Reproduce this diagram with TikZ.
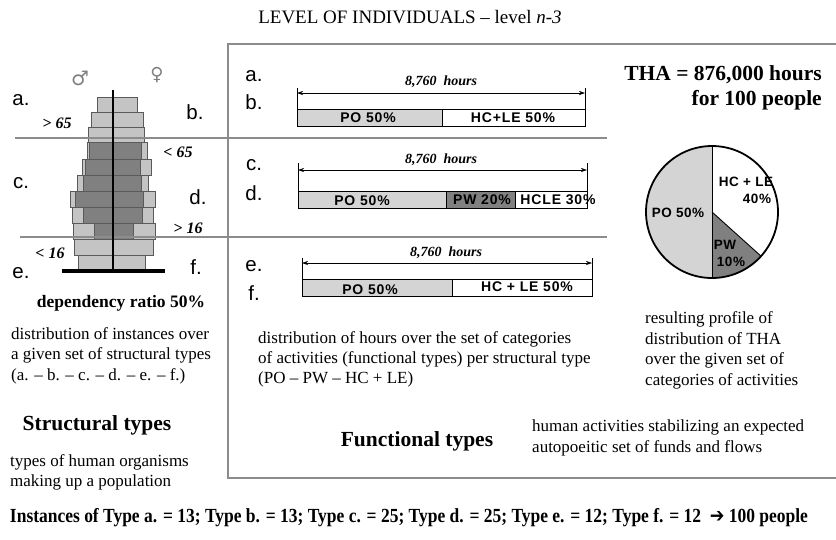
\documentclass[tikz,border=0pt]{standalone}
\usepackage{fontspec}
\setmainfont{Liberation Serif}
\newfontfamily\arial{Liberation Sans}
\newfontfamily\barfont[LetterSpace=6]{Liberation Sans}
\newfontfamily\piefont[LetterSpace=4]{Liberation Sans}
\newfontfamily\symfont{DejaVu Sans}
\usetikzlibrary{arrows.meta}
\definecolor{lgray}{HTML}{C4C4C4}
\definecolor{dgray}{HTML}{808080}
\definecolor{pogray}{HTML}{D4D4D4}
\definecolor{edgegray}{HTML}{5A5A5A}
\definecolor{linegray}{HTML}{8C8C8C}
\tikzset{
  lab/.style={font=\arial\fontsize{20.5}{20.5}\selectfont, inner sep=0},
  thr/.style={font=\bfseries\itshape\fontsize{16}{16}\selectfont, inner sep=0},
  hrs/.style={font=\bfseries\itshape\fontsize{14}{14}\selectfont, inner sep=0},
  barlab/.style={font=\barfont\bfseries\fontsize{14}{14}\selectfont, inner sep=0},
  pielab/.style={font=\piefont\bfseries\fontsize{13.5}{13.5}\selectfont, inner sep=0},
  body/.style={font=\fontsize{17}{20.5}\selectfont, align=left, inner sep=0, anchor=west},
  head/.style={font=\bfseries\fontsize{21.5}{25}\selectfont, inner sep=0},
  pyrlight/.style={fill=lgray, draw=edgegray, line width=0.6pt},
  pyrdark/.style={fill=dgray, draw=edgegray, line width=0.6pt},
  spanarrow/.style={{Stealth[length=6pt,width=4pt]}-{Stealth[length=6pt,width=4pt]}, line width=0.6pt},
  tick/.style={line width=0.7pt},
  barseg/.style={draw=black, line width=0.7pt},
  sepline/.style={draw=linegray, line width=1.6pt},
  boxline/.style={draw=linegray, line width=2.2pt}
}
\begin{document}
\begin{tikzpicture}[x=1pt,y=-1pt]
\useasboundingbox[fill=white] (0,0) rectangle (836,539);

% title
\node[font=\fontsize{19}{19}\selectfont, inner sep=0] (title) at (410,17) {LEVEL OF INDIVIDUALS -- level \textit{n-3}};

% box
\draw[boxline] (837,44) -- (228,44) -- (228,478) -- (837,478);

% pyramid
\foreach \ya/\yb/\la/\lb in {97/112/97/137,112/127/91/143,127/142/88/144,142/159/87/147,159/175/82/151,175/191/77/148,191/207/70/155,207/223/72/153,223/239/73/155,239/255/74/153,255/271/78/145}
  \draw[pyrlight] (\la,\ya) rectangle (\lb,\yb);
\foreach \ya/\yb/\la/\lb in {142/159/89/141,159/175/85/140,175/191/83/141,191/207/75/143,207/223/83/142,223/239/94/133}
  \draw[pyrdark] (\la,\ya) rectangle (\lb,\yb);

% separator lines
\draw[sepline] (15,138) -- (607,138);
\draw[sepline] (20,237) -- (607,237);

\draw[line width=2.4pt] (113,90) -- (113,271);
\draw[line width=3.4pt] (62,271) -- (165,271);

\node[font=\symfont\fontsize{20}{20}\selectfont, text=gray, inner sep=0] (male) at (80,78) {♂};
\node[font=\symfont\fontsize{18}{18}\selectfont, text=gray, inner sep=0] (female) at (157,75) {♀};

\node[lab] (la) at (21,100) {a.};
\node[lab] (lb) at (195,112) {b.};
\node[lab] (lc) at (21,183) {c.};
\node[lab] (ld) at (198,197) {d.};
\node[lab] (le) at (21,273) {e.};
\node[lab] (lf) at (196,267) {f.};

\node[thr] (t65a) at (57,123) {> 65};
\node[thr] (t65b) at (178,152) {< 65};
\node[thr] (t16a) at (188,228) {> 16};
\node[thr] (t16b) at (50,253) {< 16};

\node[font=\bfseries\fontsize{17.5}{20}\selectfont, inner sep=0] (dep) at (121,303) {dependency ratio 50\%};
\node[body] (distinst) at (11,355.5) {distribution of instances over\\a given set of structural types\\(a. – b. – c. – d. – e. – f.)};
\node[head] (structural) at (97,425) {Structural types};
\node[body, font=\fontsize{17}{19.5}\selectfont] (typesof) at (10,472.5) {types of human organisms\\making up a population};

% middle labels
\node[lab] (ma) at (254,76) {a.};
\node[lab] (mb) at (254,102) {b.};
\node[lab] (mc) at (254,165) {c.};
\node[lab] (md) at (254,193) {d.};
\node[lab] (me) at (254,266) {e.};
\node[lab] (mf) at (254,293) {f.};

% bar 1
\draw[tick] (297,88) -- (297,126);
\draw[tick] (585,88) -- (585,126);
\draw[spanarrow] (297,93) -- (585,93);
\node[hrs] (h1) at (441,82) {8,760\ \ hours};
\draw[barseg, fill=pogray] (297,109) rectangle (442,126);
\draw[barseg, fill=white] (442,109) rectangle (585,126);
\node[barlab] (p1) at (368,118) {PO 50\%};
\node[barlab] (hc1) at (513,118) {HC+LE 50\%};

% bar 2
\draw[tick] (298,163) -- (298,208);
\draw[tick] (587,163) -- (587,208);
\draw[spanarrow] (298,170) -- (587,170);
\node[hrs] (h2) at (441,160) {8,760\ \ hours};
\draw[barseg, fill=pogray] (298,191) rectangle (446,208);
\draw[barseg, fill=dgray] (446,191) rectangle (515,208);
\draw[barseg, fill=white] (515,191) rectangle (587,208);
\node[barlab] (p2) at (362,201) {PO 50\%};
\node[barlab] (pw2) at (482,200) {PW 20\%};
\node[barlab] (hc2) at (558,200) {HCLE 30\%};

% bar 3
\draw[tick] (302,258) -- (302,296);
\draw[tick] (592,258) -- (592,296);
\draw[spanarrow] (302,263) -- (592,263);
\node[hrs] (h3) at (446,253) {8,760\ \ hours};
\draw[barseg, fill=pogray] (302,279) rectangle (452,296);
\draw[barseg, fill=white] (452,279) rectangle (592,296);
\node[barlab] (p3) at (370,290) {PO 50\%};
\node[barlab] (hc3) at (527,287) {HC + LE 50\%};

\node[body, font=\fontsize{17}{19.8}\selectfont] (disthours) at (258,359.5) {distribution of hours over the set of categories\\of activities (functional types) per structural type\\(PO – PW – HC + LE)};
\node[head] (functional) at (417,441) {Functional types};
\node[body] (human) at (532,438) {human activities stabilizing an expected\\autopoeitic set of funds and flows};

% THA
\node[head, font=\bfseries\fontsize{21.5}{25}\selectfont, align=right, anchor=east] (tha) at (822,87.5) {THA = 876,000 hours\\for 100 people};

% pie
\coordinate (pc) at (712,212);
\fill[pogray] (pc) -- ++(90:66pt) arc[start angle=90, end angle=270, radius=66pt] -- cycle;
\fill[dgray] (pc) -- ++(270:66pt) arc[start angle=270, end angle=318, radius=66pt] -- cycle;
\draw[line width=0.9pt] (pc) -- ++(90:66pt);
\draw[line width=0.9pt] (pc) -- ++(270:66pt);
\draw[line width=0.9pt] (pc) -- ++(318:66pt);
\draw[line width=1.8pt] (pc) circle[radius=66pt];
\node[pielab] (pie1) at (746,182) {HC + LE};
\node[pielab] (pie2) at (757,199) {40\%};
\node[pielab] (pie3) at (678,213) {PO 50\%};
\node[pielab] (pie4) at (725,245) {PW};
\node[pielab] (pie5) at (731,262) {10\%};

\node[body] (resulting) at (645,350.5) {resulting profile of\\distribution of THA\\over the given set of\\categories of activities};

% bottom
\node[font=\bfseries\fontsize{20}{20}\selectfont, inner sep=0] (instances) at (409,518) {\resizebox{798pt}{\height}{Instances of Type a. = 13; Type b. = 13; Type c. = 25; Type d. = 25; Type e. = 12; Type f. = 12 \ {\symfont ➔} 100 people}};
\end{tikzpicture}
\end{document}
